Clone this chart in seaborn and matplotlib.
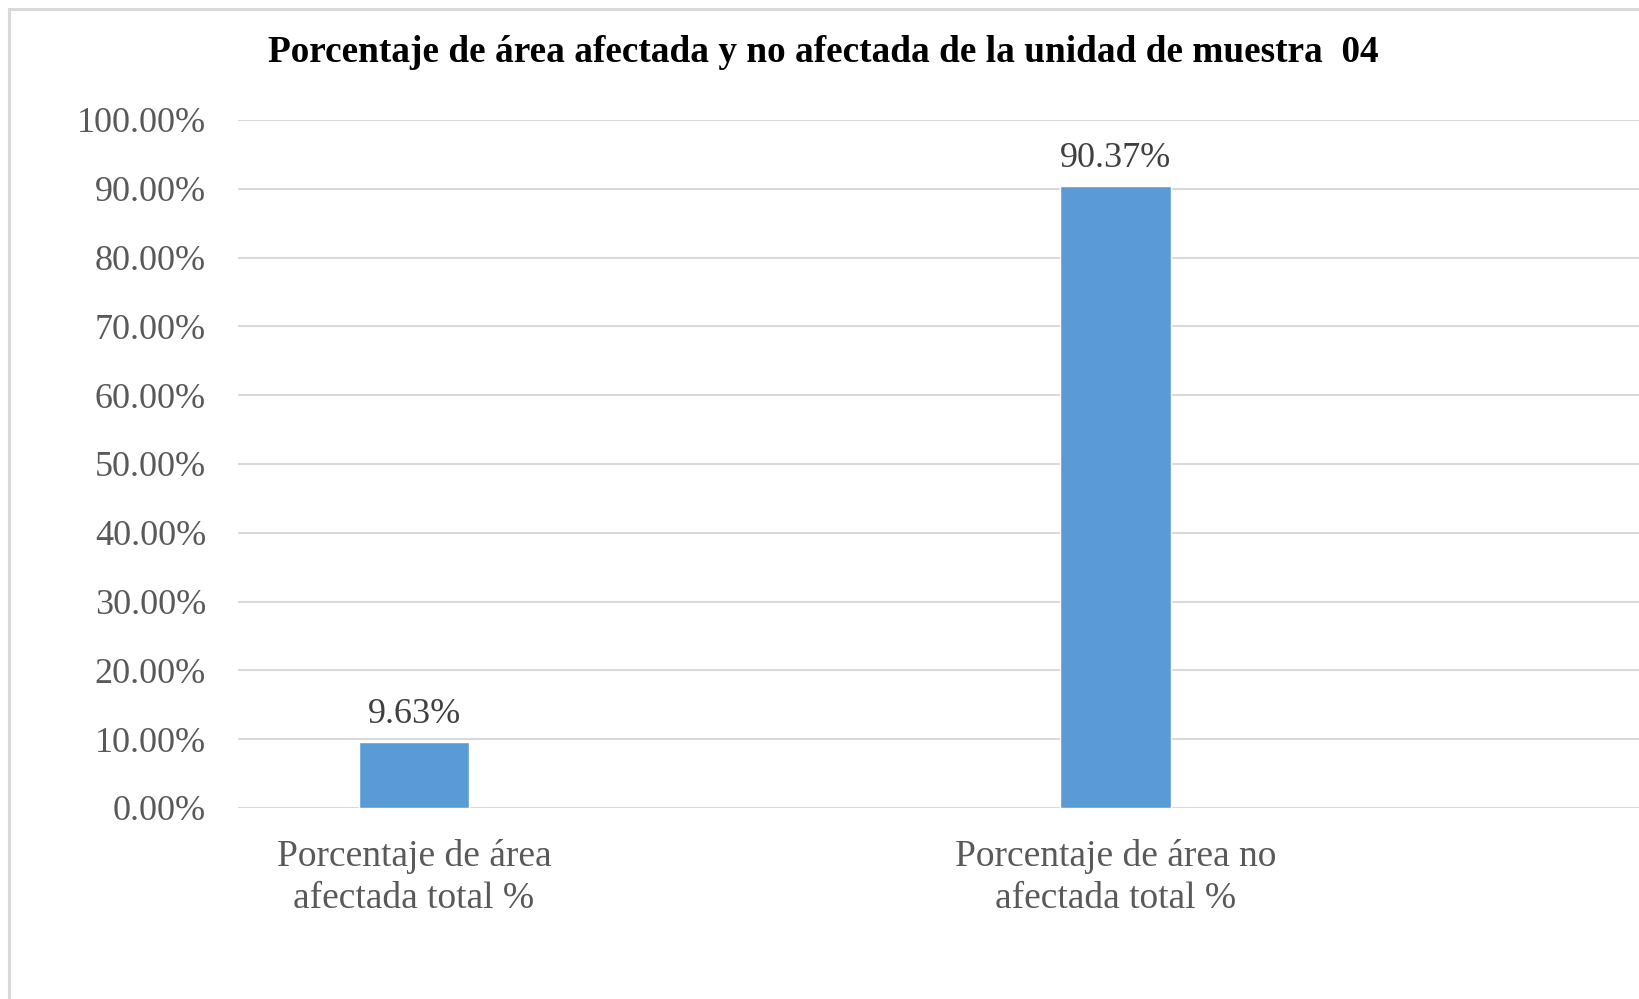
import matplotlib
matplotlib.use("Agg")
import matplotlib.pyplot as plt
from matplotlib.patches import Rectangle
from matplotlib.ticker import FuncFormatter, MultipleLocator
import seaborn as sns
import pandas as pd

categories = ["Porcentaje de área\nafectada total %", "Porcentaje de área no\nafectada total %"]
values = [9.63, 90.37]
title = "Porcentaje de área afectada y no afectada de la unidad de muestra  04"

sns.set_theme(style="white")
plt.rcParams["font.family"] = ["Liberation Serif", "DejaVu Serif"]

W, H = 1639, 999
fig = plt.figure(figsize=(W / 100, H / 100), dpi=100)
fig.patch.set_facecolor("white")

# chart frame (only top/left visible, cropped at right/bottom)
fig.patches.append(Rectangle((9 / W, -0.05), 1.2, 1 - 9 / H + 0.05, transform=fig.transFigure,
                             fill=False, edgecolor="#d9d9d9", linewidth=2.2))

ax = fig.add_axes([238 / W, 1 - 808 / H, 1 - 238 / W, (808 - 120) / H])
df = pd.DataFrame({"cat": categories, "val": values})
sns.barplot(data=df, x="cat", y="val", color="#5B9BD5", width=0.158, saturation=1, ax=ax, zorder=3)

ax.set_ylim(0, 100)
ax.set_xlim(-0.251, 1.747)
ax.yaxis.set_major_locator(MultipleLocator(10))
ax.yaxis.set_major_formatter(FuncFormatter(lambda v, p: f"{v:.2f}%"))
ax.grid(axis="y", color="#d9d9d9", linewidth=1.5, zorder=0)
ax.set_axisbelow(True)
for s in ax.spines.values():
    s.set_visible(False)
ax.set_xlabel("")
ax.set_ylabel("")
ax.tick_params(axis="y", length=0, pad=23, labelsize=26, labelcolor="#595959")
ax.tick_params(axis="x", length=0, pad=22, labelsize=27, labelcolor="#595959")
for lbl in ax.get_xticklabels():
    lbl.set_linespacing(1.3)

ax.bar_label(ax.containers[0], labels=[f"{v:.2f}%" for v in values], padding=8,
             fontsize=26, color="#404040")

fig.text(823 / W, 1 - 53 / H, title, ha="center", va="center", fontsize=26.8,
         fontweight="bold", color="black")

fig.savefig("out.png", dpi=100)
